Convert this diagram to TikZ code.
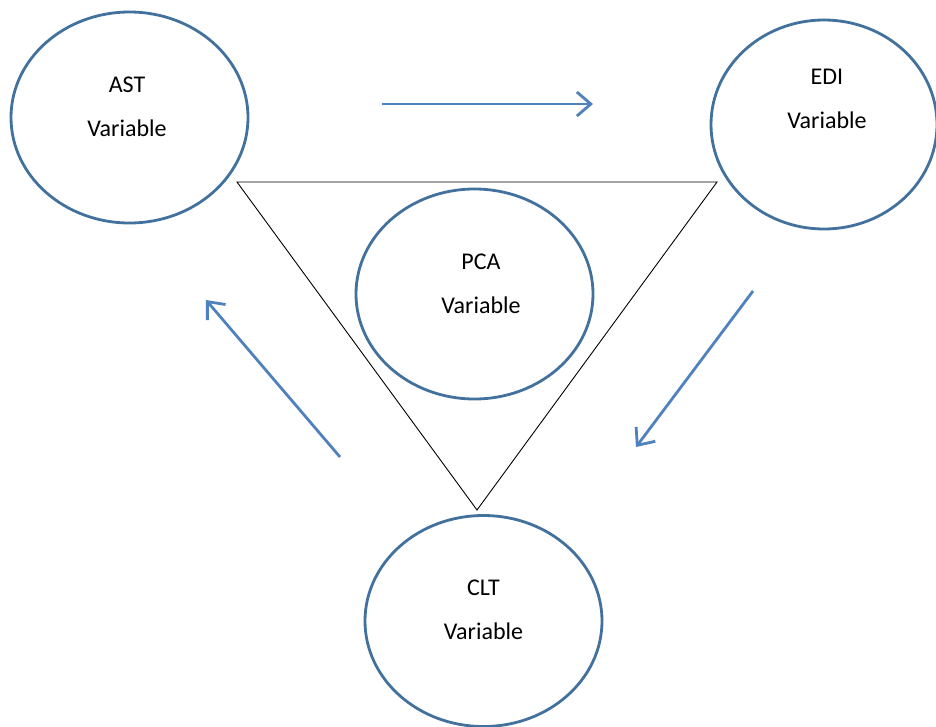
\documentclass[tikz,border=0pt]{standalone}
\usepackage{fontspec}
\setmainfont{Carlito}
\usetikzlibrary{shapes.geometric,arrows.meta,calc}
\definecolor{rimblue}{HTML}{41719C}
\definecolor{arrblue}{HTML}{4F81BD}

\begin{document}
\begin{tikzpicture}[x=1pt,y=-1pt,
  var/.style={ellipse,draw=rimblue,line width=2.8pt,minimum width=237pt,minimum height=211pt,inner sep=0pt},
  lbl/.style={align=center,font=\fontsize{24}{44}\selectfont},
  flow/.style={draw=arrblue,line width=2.8pt,-{Straight Barb[length=14pt,width=24pt]}}]
\useasboundingbox (0,0) rectangle (936,726);

% the four variables
\node [var] (ast) at (129.5,117.5) {};
\node [var,minimum width=226pt,minimum height=209pt] (edi) at (824,124.5) {};
\node [var,minimum height=210pt] (pca) at (474.5,294) {};
\node [var] (clt) at (483.5,621) {};
\node [lbl] (astt) at (127,107) {AST\\Variable};
\node [lbl] (edit) at (827,99) {EDI\\Variable};
\node [lbl] (pcat) at (481,284) {PCA\\Variable};
\node [lbl] (cltt) at (483.5,609.5) {CLT\\Variable};

% triangle round PCA
\coordinate (tl) at (237,182);
\coordinate (tr) at (717,182);
\coordinate (tb) at (477,510);
\draw [line width=0.9pt] (tl) -- (tr) -- (tb) -- cycle;

% cycle arrows
\coordinate (a1) at (382,104);
\coordinate (a2) at (593,104);
\coordinate (b1) at (753,291);
\coordinate (b2) at (636,447);
\coordinate (c1) at (340,457);
\coordinate (c2) at (206,300);
\draw [flow] (a1) -- (a2);
\draw [flow] (b1) -- (b2);
\draw [flow] (c1) -- (c2);
\end{tikzpicture}
\end{document}
